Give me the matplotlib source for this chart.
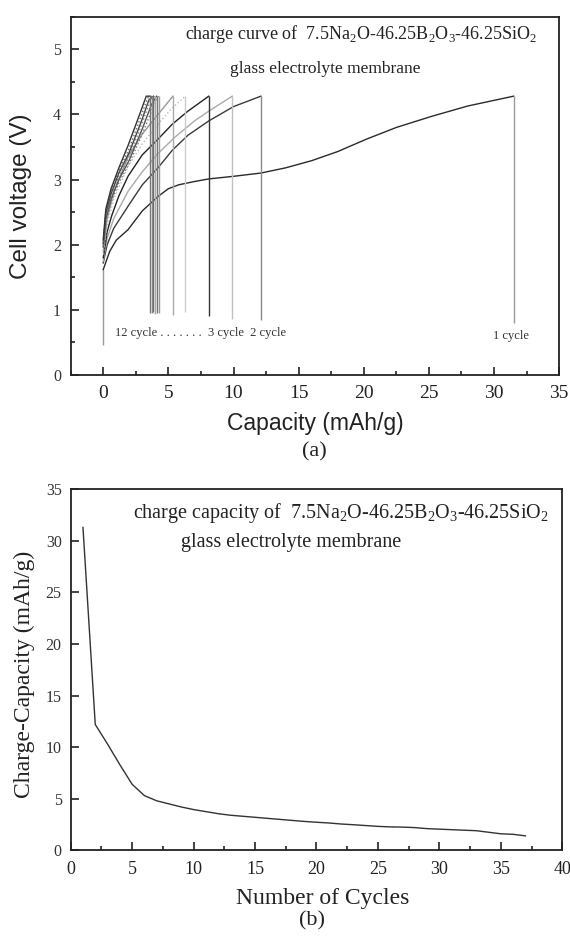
import matplotlib
matplotlib.use('Agg')
import matplotlib.pyplot as plt
from matplotlib.ticker import MultipleLocator

plt.rcParams['font.family'] = ['Liberation Serif', 'DejaVu Serif']
plt.rcParams['mathtext.fontset'] = 'custom'
plt.rcParams['mathtext.rm'] = 'Liberation Serif'

#######################################
# data (a) charge curves, capacity in mAh/g, voltage in V
#######################################
cap1 = [0, 0.5, 1.0, 1.9, 3.0, 4.2, 5.0, 5.8, 7.0, 8.1, 10, 12.1, 14, 16, 18, 20.2, 22.5, 25.2, 28, 31.5]
volt1 = [1.62, 1.9, 2.07, 2.23, 2.52, 2.74, 2.86, 2.92, 2.97, 3.01, 3.05, 3.1, 3.18, 3.29, 3.43, 3.62, 3.8, 3.97, 4.13, 4.28]
cap2 = [0, 0.3, 0.8, 1.9, 3.0, 4.2, 5.3, 6.5, 8.1, 10.0, 12.1]
volt2 = [1.72, 2.0, 2.25, 2.59, 2.92, 3.18, 3.45, 3.68, 3.9, 4.12, 4.28]
cap3 = [0, 0.3, 0.8, 1.9, 3.0, 4.2, 5.5, 7.0, 8.1, 9.9]
volt3 = [1.75, 2.1, 2.4, 2.82, 3.12, 3.4, 3.65, 3.9, 4.05, 4.28]
cap4 = [0, 0.3, 0.64, 1.2, 1.9, 3.0, 4.2, 5.3, 6.5, 8.1]
volt4 = [1.8, 2.2, 2.44, 2.75, 3.05, 3.38, 3.62, 3.85, 4.05, 4.28]
cap5 = [0, 0.3, 0.8, 1.9, 3.0, 4.2, 5.2, 6.3]
volt5 = [1.85, 2.3, 2.7, 3.2, 3.55, 3.85, 4.08, 4.28]
cap6 = [0, 0.3, 0.8, 1.9, 3.0, 4.2, 5.35]
volt6 = [1.9, 2.4, 2.8, 3.35, 3.7, 4.0, 4.28]
cap7 = [0, 0.2, 0.6, 1.2, 2.0, 3.0, 3.8, 4.25]
volt7 = [1.95, 2.35, 2.65, 2.95, 3.25, 3.7, 4.1, 4.28]
cap8 = [0, 0.2, 0.6, 1.2, 2.0, 3.0, 3.7, 4.1]
volt8 = [1.97, 2.4, 2.7, 3.0, 3.3, 3.78, 4.15, 4.28]
cap9 = [0, 0.2, 0.6, 1.2, 2.0, 2.9, 3.6, 3.95]
volt9 = [2.0, 2.45, 2.75, 3.05, 3.36, 3.82, 4.2, 4.28]
cap10 = [0, 0.2, 0.6, 1.2, 2.0, 2.9, 3.5, 3.85]
volt10 = [2.02, 2.48, 2.78, 3.1, 3.42, 3.88, 4.22, 4.28]
cap11 = [0, 0.2, 0.6, 1.2, 2.0, 2.8, 3.4, 3.72]
volt11 = [2.05, 2.5, 2.82, 3.14, 3.48, 3.92, 4.25, 4.28]
cap12 = [0, 0.2, 0.6, 1.2, 1.9, 2.7, 3.3, 3.6]
volt12 = [2.08, 2.55, 2.86, 3.18, 3.52, 3.95, 4.28, 4.28]
# voltage reached after the drop at the end of each cycle
drop_volt = [0.8, 0.84, 0.86, 0.9, 0.97, 0.92, 0.95, 0.95, 0.94, 0.96, 0.95, 0.95]
rest_volt = 0.46

#######################################
# data (b) charge capacity vs cycle
#######################################
cycles = list(range(1, 38))
charge_cap = [31.3, 12.2, 10.3, 8.3, 6.4, 5.3, 4.8, 4.5, 4.2, 3.95,
              3.75, 3.55, 3.4, 3.3, 3.2, 3.1, 3.0, 2.9, 2.8, 2.72,
              2.65, 2.55, 2.48, 2.4, 2.32, 2.27, 2.25, 2.2, 2.1, 2.05,
              2.0, 1.95, 1.9, 1.75, 1.6, 1.55, 1.4]

caps = [cap1, cap2, cap3, cap4, cap5, cap6, cap7, cap8, cap9, cap10, cap11, cap12]
volts = [volt1, volt2, volt3, volt4, volt5, volt6, volt7, volt8, volt9, volt10, volt11, volt12]
curve_col = ['#2a2a2a', '#3a3a3a', '#aaaaaa', '#222222', '#bbbbbb', '#999999',
             '#777777', '#555555', '#888888', '#444444', '#666666', '#333333']
drop_col = ['#9a9a9a', '#8a8a8a', '#c0c0c0', '#333333', '#cccccc', '#aaaaaa',
            '#999999', '#777777', '#aaaaaa', '#666666', '#888888', '#777777']
styles = ['-', '-', '-', '-', ':', '-', ':', '-', ':', '-', ':', '-']

fig = plt.figure(figsize=(5.7, 9.43), dpi=100)


def style_axes(ax, yfs, xfs, ypad, xpad):
    for s in ax.spines.values():
        s.set_linewidth(1.3)
        s.set_color('#222222')
    ax.tick_params(which='both', direction='in', top=False, right=False, width=1.2, color='#222222')
    ax.tick_params(which='major', length=5.5)
    ax.tick_params(which='minor', length=2.8)
    ax.tick_params(axis='y', labelsize=yfs, pad=ypad, labelcolor='#333333')
    ax.tick_params(axis='x', labelsize=xfs, pad=xpad, labelcolor='#222222')


#######################################
# (a)
#######################################
ax1 = fig.add_axes([0.124, 0.6023, 0.857, 0.38])
ax1.vlines(0, rest_volt, volt1[0], color='#999999', lw=1.0)
for i in range(len(caps)):
    ax1.plot(caps[i], volts[i], color=curve_col[i], lw=1.0, ls=styles[i])
    ax1.vlines(caps[i][-1], drop_volt[i], volts[i][-1], color=drop_col[i], lw=1.0)
ax1.set_xlim(-2.5, 35)
ax1.set_ylim(0, 5.5)
ax1.xaxis.set_major_locator(MultipleLocator(5))
ax1.xaxis.set_minor_locator(MultipleLocator(2.5))
ax1.yaxis.set_major_locator(MultipleLocator(1))
ax1.yaxis.set_minor_locator(MultipleLocator(0.5))
style_axes(ax1, 11.5, 14, 7, 7)
ax1.set_ylabel('Cell voltage (V)', family='Liberation Sans', fontsize=17.5, color='#222222')
ax1.set_xlabel('Capacity (mAh/g)', family='Liberation Sans', fontsize=16.5, color='#222222')
ax1.yaxis.set_label_coords(-0.079, 0.5)
ax1.xaxis.set_label_coords(0.5, -0.103)
ax1.text(6.3, 5.23, r'charge curve of  7.5Na$_2$O-46.25B$_2$O$_3$-46.25SiO$_2$',
         fontsize=13, va='center', color='#222222')
ax1.text(9.75, 4.69, 'glass electrolyte membrane', fontsize=12.5, va='center', color='#222222')
ax1.text(0.9, 0.65, '12 cycle . . . . . . .  3 cycle  2 cycle', fontsize=9, va='center', color='#333333')
ax1.text(29.9, 0.6, '1 cycle', fontsize=9, va='center', color='#333333')
fig.text(314 / 570, 1 - 452 / 943, '(a)', fontsize=16, ha='center', va='center', color='#222222')

#######################################
# (b)
#######################################
ax2 = fig.add_axes([0.124, 0.0983, 0.8625, 0.3828])
ax2.plot(cycles, charge_cap, color='#333333', lw=1.0)
ax2.set_xlim(0, 40)
ax2.set_ylim(0, 35)
ax2.xaxis.set_major_locator(MultipleLocator(5))
ax2.xaxis.set_minor_locator(MultipleLocator(2.5))
ax2.yaxis.set_major_locator(MultipleLocator(5))
style_axes(ax2, 11.5, 13, 6.5, 8)
ax2.set_ylabel('Charge-Capacity (mAh/g)', fontsize=17, color='#222222')
ax2.set_xlabel('Number of Cycles', fontsize=17, color='#222222')
ax2.yaxis.set_label_coords(-0.073, 0.486)
ax2.xaxis.set_label_coords(0.512, -0.104)
ax2.text(5.07, 32.7, r'charge capacity of  7.5Na$_2$O-46.25B$_2$O$_3$-46.25SiO$_2$',
         fontsize=14.5, va='center', color='#222222')
ax2.text(8.97, 29.8, 'glass electrolyte membrane', fontsize=14.5, va='center', color='#222222')
fig.text(312 / 570, 1 - 921 / 943, '(b)', fontsize=16, ha='center', va='center', color='#222222')

fig.savefig('out.png', dpi=100)
